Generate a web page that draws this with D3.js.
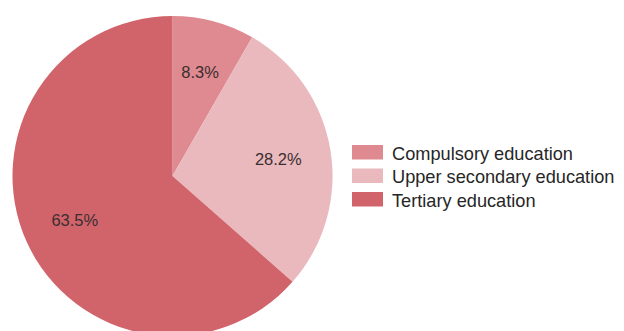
<!DOCTYPE html>
<html>
<head>
<meta charset="utf-8">
<script src="https://cdn.jsdelivr.net/npm/d3@7"></script>
<style>
  html, body { margin: 0; padding: 0; background: #fff; }
  svg { display: block; font-family: "Liberation Sans", Arial, sans-serif; }
</style>
</head>
<body>
<svg id="chart" width="624" height="331"></svg>
<script>
// Share of people by highest level of education attained
const categories = ["Compulsory education", "Upper secondary education", "Tertiary education"];
const shares = [8.3, 28.2, 63.5];
const colors = ["#de8a90", "#eab9bd", "#d1646a"];

const svg = d3.select("#chart");
const cx = 172.5, cy = 176, radius = 160;

const pie = d3.pie().sort(null).value(d => d.value);
const arcs = pie(categories.map((c, i) => ({ name: c, value: shares[i], color: colors[i] })));

const arc = d3.arc().innerRadius(0).outerRadius(radius);
const labelArc = d3.arc().innerRadius(radius * 0.67).outerRadius(radius * 0.67);

const g = svg.append("g").attr("transform", `translate(${cx},${cy})`);

g.selectAll("path.slice")
  .data(arcs)
  .join("path")
  .attr("class", "slice")
  .attr("d", arc)
  .attr("fill", d => d.data.color);

g.selectAll("text.pct")
  .data(arcs)
  .join("text")
  .attr("class", "pct")
  .attr("transform", d => `translate(${labelArc.centroid(d)})`)
  .attr("text-anchor", "middle")
  .attr("dy", "0.36em")
  .attr("font-size", 16.5)
  .attr("fill", "#3a2e2f")
  .text(d => d.data.value.toFixed(1) + "%");

// Legend
const legend = svg.append("g").attr("transform", "translate(352,145)");
const rowH = 23.5;
const rows = legend.selectAll("g.row")
  .data(categories)
  .join("g")
  .attr("class", "row")
  .attr("transform", (d, i) => `translate(0,${i * rowH})`);

rows.append("rect")
  .attr("width", 31)
  .attr("height", 14.5)
  .attr("fill", (d, i) => colors[i]);

rows.append("text")
  .attr("x", 40)
  .attr("y", 14.5)
  .attr("font-size", 18.2)
  .attr("fill", "#262626")
  .text(d => d);
</script>
</body>
</html>
